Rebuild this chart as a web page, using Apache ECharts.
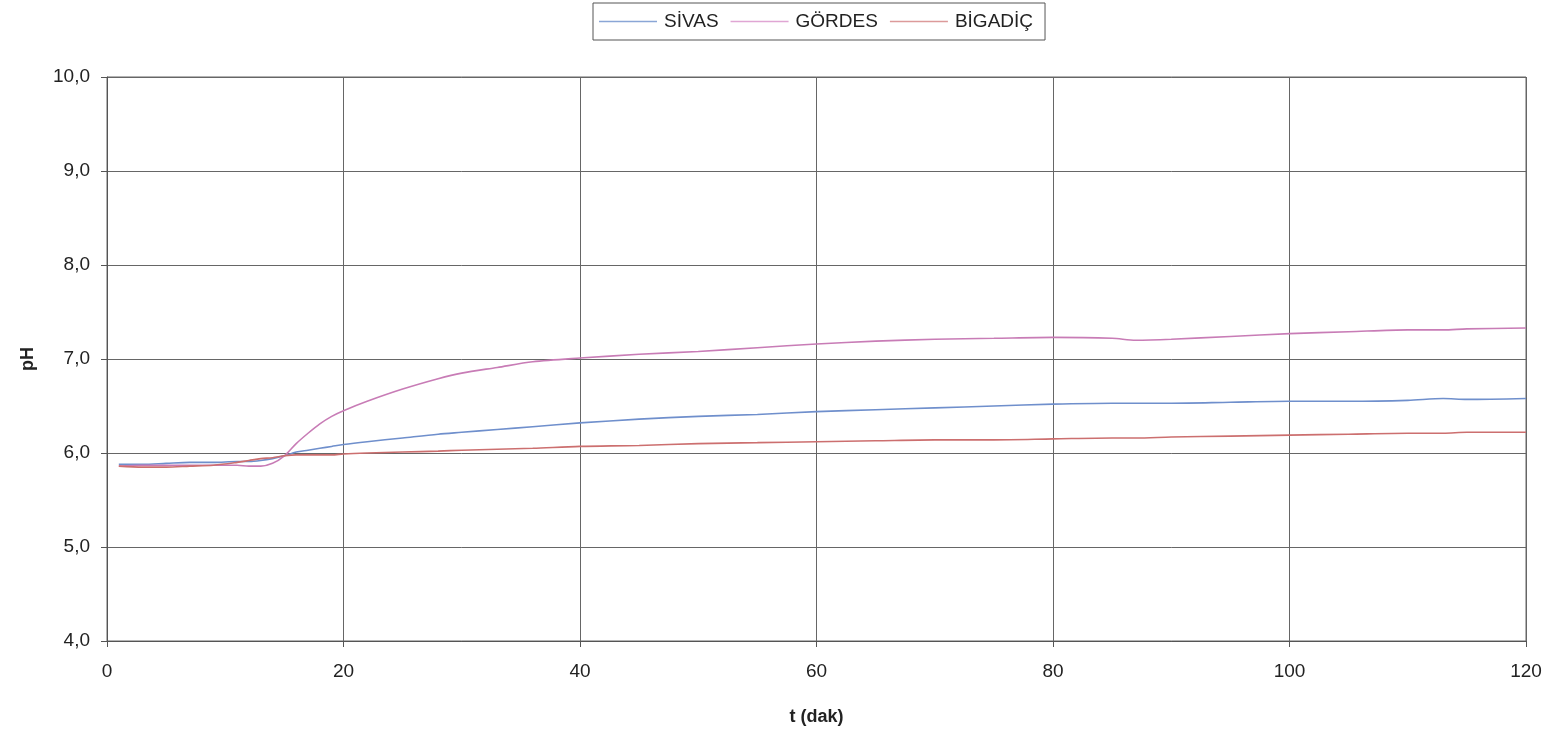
<!DOCTYPE html>
<html>
<head>
<meta charset="utf-8">
<script src="https://cdn.jsdelivr.net/npm/echarts@6/dist/echarts.min.js"></script>
<style>
  html, body { margin: 0; padding: 0; background: #fff; }
  #chart { width: 1556px; height: 731px; }
</style>
</head>
<body>
<div id="chart"></div>
<script>
// zaman (dak)
var times = [1, 3, 5, 7, 9, 11, 12, 13, 14, 15, 16, 17, 18, 19, 20, 22, 25, 28, 30, 33,
  36, 40, 45, 50, 55, 60, 65, 70, 75, 80, 85, 87, 90, 95, 100, 105, 110, 113, 115, 120];

var sivas = [5.88, 5.88, 5.89, 5.90, 5.90, 5.91, 5.91, 5.92, 5.94, 5.97, 6.01, 6.03, 6.05, 6.07, 6.09, 6.12, 6.16, 6.20, 6.22, 6.25,
  6.28, 6.32, 6.36, 6.39, 6.41, 6.44, 6.46, 6.48, 6.50, 6.52, 6.53, 6.53, 6.53, 6.54, 6.55, 6.55, 6.56, 6.58, 6.57, 6.58];

var gordes = [5.86, 5.87, 5.87, 5.87, 5.87, 5.87, 5.86, 5.86, 5.89, 5.97, 6.10, 6.21, 6.31, 6.39, 6.45, 6.55, 6.68, 6.79, 6.85, 6.91,
  6.97, 7.01, 7.05, 7.08, 7.12, 7.16, 7.19, 7.21, 7.22, 7.23, 7.22, 7.20, 7.21, 7.24, 7.27, 7.29, 7.31, 7.31, 7.32, 7.33];

var bigadic = [5.86, 5.85, 5.85, 5.86, 5.87, 5.90, 5.92, 5.94, 5.95, 5.97, 5.98, 5.98, 5.98, 5.98, 5.99, 6.00, 6.01, 6.02, 6.03, 6.04,
  6.05, 6.07, 6.08, 6.10, 6.11, 6.12, 6.13, 6.14, 6.14, 6.15, 6.16, 6.16, 6.17, 6.18, 6.19, 6.20, 6.21, 6.21, 6.22, 6.22];

var seriesNames = ["SİVAS", "GÖRDES", "BİGADİÇ"];
var colors = ["#6f8fcc", "#c87cb6", "#cc6f6f"];
var legendColors = ["#8aa6d6", "#e0a6d4", "#dc9a9a"];

function pairs(vals) {
  return times.map(function (t, i) { return [t, vals[i]]; });
}

var chart = echarts.init(document.getElementById("chart"));
var font = "'Liberation Sans', Arial, sans-serif";

var serObj = [sivas, gordes, bigadic].map(function (vals, i) {
  return {
    name: seriesNames[i],
    type: "line",
    symbol: "none",
    smooth: 0.3,
    lineStyle: { width: 1.6, color: colors[i] },
    itemStyle: { color: colors[i] },
    data: pairs(vals)
  };
});

var option = {
  animation: false,
  textStyle: { fontFamily: font },
  color: colors,
  legend: {
    left: 593,
    top: 3,
    padding: [9, 12, 9, 6],
    itemGap: 12,
    itemWidth: 58,
    itemHeight: 1.5,
    icon: "rect",
    borderColor: "#555",
    borderWidth: 1,
    textStyle: { fontSize: 19, color: "#222", fontFamily: font, padding: [0, 0, 0, 2] },
    data: seriesNames.map(function (n, i) {
      return { name: n, itemStyle: { color: legendColors[i] } };
    })
  },
  grid: {
    left: 107,
    right: 30,
    top: 77,
    bottom: 90,
    show: true,
    borderColor: "#666",
    borderWidth: 1
  },
  xAxis: {
    type: "value",
    min: 0,
    max: 120,
    interval: 20,
    name: "t (dak)",
    nameLocation: "middle",
    nameGap: 67,
    nameTextStyle: { fontSize: 18, fontWeight: "bold", color: "#222" },
    axisLine: { lineStyle: { color: "#555" } },
    axisTick: { show: true, length: 6, lineStyle: { color: "#555" } },
    axisLabel: { fontSize: 19, color: "#222", margin: 21 },
    splitLine: { show: true, lineStyle: { color: "#666", width: 1 } }
  },
  yAxis: {
    type: "value",
    min: 4,
    max: 10,
    interval: 1,
    name: "pH",
    nameLocation: "middle",
    nameGap: 70,
    nameTextStyle: { fontSize: 18, fontWeight: "bold", color: "#222" },
    axisLine: { show: true, lineStyle: { color: "#555" } },
    axisTick: { show: true, length: 6, lineStyle: { color: "#555" } },
    axisLabel: {
      fontSize: 19,
      color: "#222",
      margin: 17,
      formatter: function (v) { return v.toFixed(1).replace(".", ","); }
    },
    splitLine: { show: true, lineStyle: { color: "#666", width: 1 } }
  },
  series: serObj
};

chart.setOption(option);
</script>
</body>
</html>
